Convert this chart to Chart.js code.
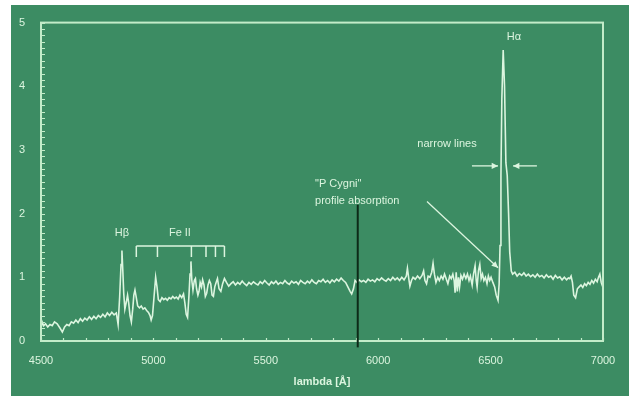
<!DOCTYPE html>
<html>
<head>
<meta charset="utf-8">
<script src="https://cdn.jsdelivr.net/npm/chart.js@4"></script>
<style>
  html, body { margin: 0; padding: 0; background: #fff; }
  canvas { display: block; }
</style>
</head>
<body>
<canvas id="spectrum" width="629" height="396"></canvas>
<script>
// wavelength (Angstrom) and relative flux
const wavelength = [
  4500, 4505, 4512, 4520, 4530, 4540, 4550, 4560, 4572, 4585, 4595, 4605, 4615, 4625, 4635, 4645,
  4655, 4665, 4675, 4685, 4695, 4705, 4715, 4725, 4735, 4745, 4755, 4765, 4775, 4785, 4795, 4805,
  4815, 4825, 4835, 4843, 4850, 4856, 4860, 4864, 4868, 4873, 4880, 4885, 4890, 4896, 4902, 4908,
  4913, 4918, 4923, 4930, 4938, 4946, 4954, 4962, 4970, 4978, 4985, 4990, 4996, 5003, 5010, 5016,
  5022, 5030, 5038, 5046, 5054, 5062, 5070, 5078, 5086, 5094, 5102, 5110, 5118, 5126, 5134, 5140,
  5146, 5152, 5158, 5163, 5167, 5171, 5176, 5182, 5187, 5192, 5198, 5203, 5208, 5214, 5219, 5225,
  5231, 5237, 5243, 5249, 5255, 5261, 5267, 5273, 5279, 5285, 5292, 5300, 5308, 5316, 5325, 5335,
  5345, 5355, 5365, 5375, 5385, 5395, 5405, 5415, 5425, 5435, 5445, 5455, 5465, 5475, 5485, 5495,
  5505, 5515, 5525, 5535, 5545, 5555, 5565, 5575, 5585, 5595, 5605, 5615, 5625, 5635, 5645, 5655,
  5665, 5675, 5685, 5695, 5705, 5715, 5725, 5735, 5745, 5755, 5765, 5775, 5785, 5795, 5805, 5815,
  5825, 5835, 5845, 5855, 5865, 5875, 5882, 5890, 5897, 5905, 5915, 5925, 5935, 5945, 5955, 5965,
  5975, 5985, 5995, 6005, 6015, 6025, 6035, 6045, 6055, 6065, 6075, 6085, 6095, 6105, 6115, 6125,
  6130, 6136, 6141, 6148, 6155, 6165, 6175, 6185, 6195, 6202, 6208, 6215, 6222, 6230, 6238, 6244,
  6250, 6257, 6265, 6272, 6280, 6288, 6295, 6302, 6310, 6318, 6325, 6332, 6338, 6342, 6347, 6352,
  6357, 6362, 6368, 6375, 6382, 6390, 6397, 6404, 6410, 6418, 6424, 6431, 6436, 6440, 6446, 6452,
  6458, 6464, 6470, 6477, 6484, 6490, 6496, 6502, 6510, 6518, 6525, 6533, 6538, 6542, 6546, 6550,
  6556, 6562, 6568, 6574, 6580, 6585, 6592, 6598, 6608, 6618, 6628, 6638, 6648, 6658, 6668, 6678,
  6688, 6698, 6708, 6718, 6728, 6738, 6748, 6758, 6768, 6778, 6788, 6798, 6808, 6818, 6828, 6838,
  6846, 6852, 6858, 6864, 6870, 6878, 6886, 6894, 6902, 6910, 6918, 6926, 6934, 6942, 6950, 6958,
  6966, 6974, 6980, 6986, 6992, 7000
];
const flux = [
  0.20, 0.30, 0.24, 0.27, 0.22, 0.26, 0.24, 0.30, 0.27, 0.20, 0.14, 0.22, 0.26, 0.24, 0.30, 0.28,
  0.33, 0.29, 0.35, 0.31, 0.36, 0.33, 0.38, 0.34, 0.39, 0.35, 0.40, 0.37, 0.42, 0.38, 0.44, 0.40,
  0.45, 0.41, 0.44, 0.26, 0.70, 1.20, 1.42, 1.10, 0.75, 0.50, 0.62, 0.72, 0.60, 0.40, 0.30, 0.50,
  0.72, 0.80, 0.70, 0.55, 0.52, 0.55, 0.50, 0.52, 0.48, 0.45, 0.40, 0.33, 0.40, 0.70, 1.00, 0.85,
  0.65, 0.62, 0.68, 0.65, 0.67, 0.64, 0.68, 0.66, 0.70, 0.67, 0.69, 0.66, 0.72, 0.68, 0.74, 0.60,
  0.42, 0.37, 0.70, 1.05, 1.25, 0.95, 0.80, 0.95, 0.98, 0.82, 0.72, 0.78, 0.92, 0.85, 0.96, 0.88,
  0.70, 0.75, 0.88, 0.95, 0.90, 0.72, 0.70, 0.85, 0.92, 0.98, 0.82, 0.78, 0.90, 0.98, 0.92, 0.86,
  0.90, 0.93, 0.88, 0.92, 0.89, 0.94, 0.90, 0.87, 0.92, 0.89, 0.93, 0.90, 0.88, 0.93, 0.90, 0.95,
  0.91, 0.88, 0.93, 0.90, 0.94, 0.89, 0.92, 0.90, 0.95, 0.91, 0.89, 0.94, 0.91, 0.93, 0.89, 0.95,
  0.92, 0.90, 0.94, 0.91, 0.96, 0.92, 0.90, 0.95, 0.93, 0.97, 0.92, 0.95, 0.91, 0.96, 0.93, 0.97,
  0.94, 0.99, 0.95, 0.92, 0.85, 0.78, 0.74, 0.82, 0.95, 0.92, 0.96, 0.93, 0.95, 0.92, 0.97, 0.94,
  0.96, 0.93, 0.98, 0.95, 0.99, 0.96, 0.94, 0.98, 0.95, 1.00, 0.96, 0.99, 0.95, 1.00, 0.96, 1.02,
  1.14, 0.98, 0.86, 0.95, 1.00, 0.97, 1.02, 0.98, 1.03, 1.10, 0.95, 0.90, 1.02, 1.00, 1.08, 1.22,
  1.05, 0.92, 1.00, 0.95, 1.02, 0.97, 1.05, 0.98, 0.90, 1.02, 0.98, 1.05, 0.95, 0.76, 1.08, 0.78,
  1.00, 0.85, 1.03, 0.97, 1.05, 0.98, 1.05, 0.95, 1.02, 0.88, 1.05, 1.18, 0.95, 0.85, 1.10, 1.20,
  0.98, 1.05, 0.95, 1.00, 0.90, 1.02, 0.95, 1.00, 0.92, 0.85, 0.72, 0.64, 0.90, 1.50, 2.60, 3.80,
  4.57, 4.00, 2.80, 2.60, 2.00, 1.40, 1.10, 1.05, 1.08, 1.02, 1.06, 1.03, 1.07, 1.02, 1.05, 1.01,
  1.04, 1.00, 1.05, 1.01, 1.03, 0.99, 1.04, 1.00, 1.02, 0.97, 1.03, 0.99, 1.01, 0.96, 1.00, 0.96,
  0.99, 0.98, 1.02, 0.92, 0.72, 0.68, 0.82, 0.85, 0.88, 0.84, 0.90, 0.87, 0.92, 0.89, 0.95, 0.91,
  0.97, 0.93, 1.00, 1.05, 0.92, 0.84, 0.98, 1.00
];
const xTicks = [4500, 5000, 5500, 6000, 6500, 7000];
const yTicks = [0, 1, 2, 3, 4, 5];
const feIILines = [4924, 5018, 5169, 5234, 5276, 5316];

const PANEL = '#3c8c63';
const INK = '#dcf5df';
const FRAME = '#c3ecc9';

const decor = {
  id: 'decor',
  beforeDraw(chart) {
    const ctx = chart.ctx;
    ctx.save();
    ctx.fillStyle = '#ffffff';
    ctx.fillRect(0, 0, chart.width, chart.height);
    ctx.fillStyle = PANEL;
    ctx.fillRect(11, 5, chart.width - 11, chart.height - 5);
    ctx.restore();
  },
  afterDatasetsDraw(chart) {
    const {ctx, chartArea: a, scales: {x, y}} = chart;
    ctx.save();
    // frame
    ctx.strokeStyle = FRAME;
    ctx.lineWidth = 2;
    ctx.strokeRect(a.left, a.top, a.right - a.left, a.bottom - a.top);
    // minor ticks, inside
    ctx.lineWidth = 1.2;
    ctx.beginPath();
    for (let v = 0; v <= 50; v++) {
      const py = Math.round(y.getPixelForValue(v / 10)) + 0.5;
      ctx.moveTo(a.left, py);
      ctx.lineTo(a.left + 4, py);
    }
    for (let v = 4500; v <= 7000; v += 100) {
      const px = Math.round(x.getPixelForValue(v)) + 0.5;
      ctx.moveTo(px, a.bottom);
      ctx.lineTo(px, a.bottom - 3);
    }
    ctx.stroke();

    // vertical marker line
    ctx.strokeStyle = '#0d2a18';
    ctx.lineWidth = 2;
    ctx.beginPath();
    ctx.moveTo(x.getPixelForValue(5909), y.getPixelForValue(2.14));
    ctx.lineTo(x.getPixelForValue(5909), y.getPixelForValue(-0.1));
    ctx.stroke();

    const P = (lx, ly) => [x.getPixelForValue(lx), y.getPixelForValue(ly)];
    const arrow = (from, to) => {
      const [x0, y0] = P(...from), [x1, y1] = P(...to);
      const ang = Math.atan2(y1 - y0, x1 - x0);
      ctx.beginPath();
      ctx.moveTo(x0, y0);
      ctx.lineTo(x1, y1);
      ctx.stroke();
      ctx.beginPath();
      ctx.moveTo(x1, y1);
      ctx.lineTo(x1 - 7 * Math.cos(ang - 0.45), y1 - 7 * Math.sin(ang - 0.45));
      ctx.lineTo(x1 - 7 * Math.cos(ang + 0.45), y1 - 7 * Math.sin(ang + 0.45));
      ctx.closePath();
      ctx.fill();
    };

    ctx.strokeStyle = INK;
    ctx.fillStyle = INK;
    ctx.lineWidth = 1.3;
    arrow([6417, 2.75], [6533, 2.75]);
    arrow([6706, 2.75], [6600, 2.75]);
    arrow([6217, 2.19], [6533, 1.15]);

    // Fe II bracket
    ctx.lineWidth = 1.5;
    ctx.beginPath();
    const [bx0, by] = P(feIILines[0], 1.49);
    const [bx1] = P(feIILines[feIILines.length - 1], 1.49);
    ctx.moveTo(bx0, by);
    ctx.lineTo(bx1, by);
    feIILines.forEach(l => {
      const [tx] = P(l, 1.49);
      ctx.moveTo(tx, by);
      ctx.lineTo(tx, by + 11);
    });
    ctx.stroke();

    // labels
    ctx.font = '11px "Liberation Sans", Arial, sans-serif';
    ctx.textBaseline = 'middle';
    ctx.textAlign = 'center';
    const text = (s, lx, ly) => { const [tx, ty] = P(lx, ly); ctx.fillText(s, tx, ty); };
    text('H\u03B1', 6604, 4.78);
    text('narrow lines', 6306, 3.09);
    text('H\u03B2', 4860, 1.69);
    text('Fe II', 5118, 1.69);
    ctx.textAlign = 'left';
    text('"P Cygni"', 5719, 2.47);
    text('profile absorption', 5719, 2.20);
    ctx.restore();
  }
};

new Chart(document.getElementById('spectrum'), {
  type: 'line',
  data: {
    datasets: [{
      label: 'spectrum',
      data: wavelength.map((w, i) => ({x: w, y: flux[i]})),
      borderColor: INK,
      borderWidth: 1.6,
      pointRadius: 0,
      tension: 0,
      fill: false
    }]
  },
  options: {
    responsive: false,
    animation: false,
    devicePixelRatio: 1,
    layout: {padding: {left: 11, right: 26, top: 19, bottom: 0}},
    plugins: {legend: {display: false}, tooltip: {enabled: false}},
    scales: {
      x: {
        type: 'linear',
        min: 4500,
        max: 7000,
        afterBuildTicks: s => { s.ticks = xTicks.map(v => ({value: v})); },
        afterFit: s => { s.height = 55; },
        grid: {display: false, drawTicks: false},
        border: {display: false},
        ticks: {
          color: INK,
          padding: 13,
          font: {size: 11, family: '"Liberation Sans", Arial, sans-serif'},
          callback: v => String(v)
        },
        title: {
          display: true,
          text: 'lambda [Å]',
          color: INK,
          font: {size: 11, weight: 'bold', family: '"Liberation Sans", Arial, sans-serif'},
          padding: {top: 0, bottom: 7}
        }
      },
      y: {
        min: 0,
        max: 5,
        afterBuildTicks: s => { s.ticks = yTicks.map(v => ({value: v})); },
        afterFit: s => { s.width = 30; },
        grid: {display: false, drawTicks: false},
        border: {display: false},
        ticks: {color: INK, padding: 16, font: {size: 11, family: '"Liberation Sans", Arial, sans-serif'}}
      }
    }
  },
  plugins: [decor]
});
</script>
</body>
</html>
